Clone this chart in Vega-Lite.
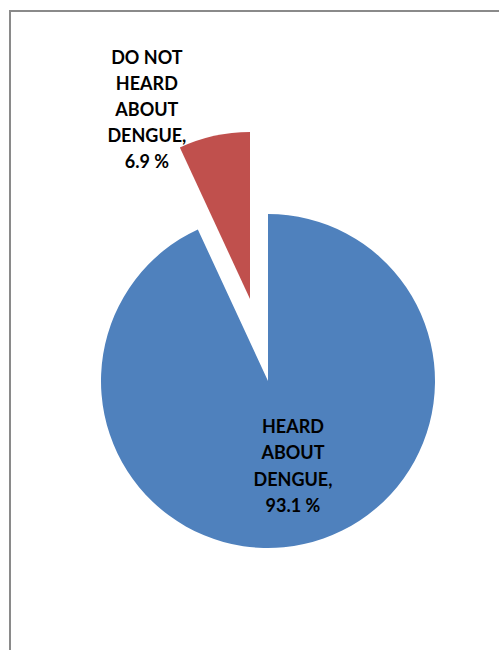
{
  "$schema": "https://vega.github.io/schema/vega-lite/v6.json",
  "autosize": {"type": "none"},
  "width": 516,
  "height": 740,
  "padding": {"left": 10, "top": 11, "right": -27, "bottom": -101},
  "background": "white",
  "view": {"stroke": "#8a8a8a", "strokeWidth": 2, "fill": "white"},
  "data": {"values": [
    {"category": "HEARD ABOUT DENGUE", "value": 93.1, "order": 1, "label": "HEARD\nABOUT\nDENGUE,\n93.1 %"},
    {"category": "DO NOT HEARD ABOUT DENGUE", "value": 6.9, "order": 2, "label": "DO NOT\nHEARD\nABOUT\nDENGUE,\n6.9 %"}
  ]},
  "transform": [
    {"stack": "value", "groupby": [], "sort": [{"field": "order"}], "as": ["v0", "v1"]},
    {"calculate": "(datum.v0 + datum.v1) / 2", "as": "mid"}
  ],
  "layer": [
    {
      "transform": [{"filter": "datum.order == 1"}],
      "mark": {"type": "arc", "outerRadius": 167, "color": "#4F81BD"},
      "encoding": {
        "theta": {"field": "v0", "type": "quantitative", "scale": {"domain": [0, 100]}},
        "theta2": {"field": "v1"}
      }
    },
    {
      "transform": [{"filter": "datum.order == 2"}],
      "mark": {"type": "arc", "outerRadius": 167, "color": "#C0504D", "xOffset": -18, "yOffset": -82},
      "encoding": {
        "theta": {"field": "v0", "type": "quantitative", "scale": {"domain": [0, 100]}},
        "theta2": {"field": "v1"}
      }
    },
    {
      "transform": [{"filter": "datum.order == 1"}],
      "mark": {"type": "text", "font": "Lato", "fontWeight": "bold", "fontSize": 18, "lineBreak": "\n", "lineHeight": 26.3, "color": "#000000", "radius": 88, "dx": 6, "dy": -39, "baseline": "middle"},
      "encoding": {
        "theta": {"field": "mid", "type": "quantitative", "scale": {"domain": [0, 100]}},
        "text": {"field": "label"}
      }
    },
    {
      "transform": [{"filter": "datum.order == 2"}],
      "mark": {"type": "text", "font": "Lato", "fontWeight": "bold", "fontSize": 18, "lineBreak": "\n", "lineHeight": 25.8, "color": "#000000", "radius": 275, "dx": -62, "dy": -53, "baseline": "middle"},
      "encoding": {
        "theta": {"field": "mid", "type": "quantitative", "scale": {"domain": [0, 100]}},
        "text": {"field": "label"}
      }
    }
  ]
}
